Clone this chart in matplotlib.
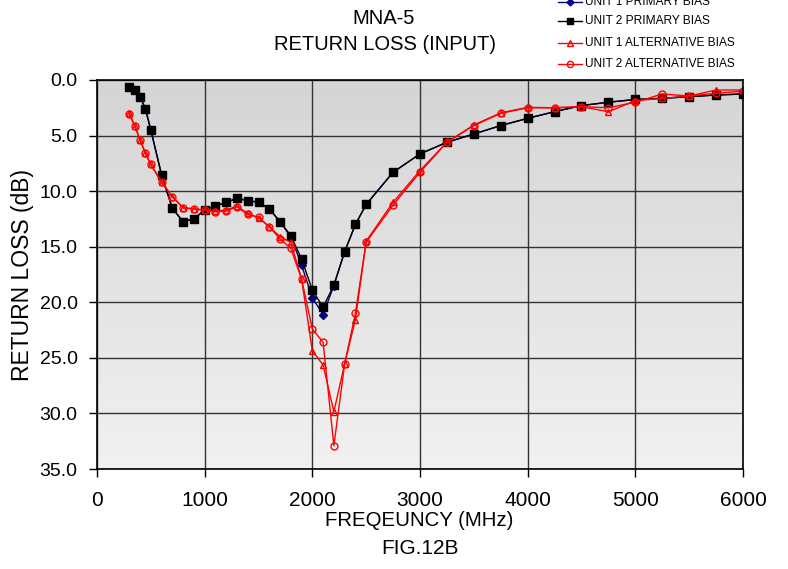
import matplotlib
matplotlib.use("Agg")
import matplotlib.pyplot as plt
import numpy as np
from matplotlib.lines import Line2D

plt.rcParams['font.family'] = ['Liberation Sans', 'DejaVu Sans']

freq = [300, 350, 400, 450, 500, 600, 700, 800, 900, 1000, 1100, 1200, 1300, 1400,
        1500, 1600, 1700, 1800, 1900, 2000, 2100, 2200, 2300, 2400, 2500, 2750,
        3000, 3250, 3500, 3750, 4000, 4250, 4500, 4750, 5000, 5250, 5500, 5750, 6000]

unit2_primary = [0.6, 0.9, 1.5, 2.6, 4.5, 8.55, 11.55, 12.75, 12.5, 11.7, 11.35, 11.0,
                 10.65, 10.85, 11.0, 11.6, 12.75, 14.0, 16.1, 18.9, 20.45, 18.45, 15.45,
                 13.0, 11.2, 8.3, 6.65, 5.6, 4.86, 4.1, 3.45, 2.85, 2.3, 2.0, 1.75, 1.65,
                 1.5, 1.35, 1.26]

unit1_primary = [0.6, 0.9, 1.5, 2.6, 4.5, 8.55, 11.55, 12.75, 12.5, 11.7, 11.35, 11.0,
                 10.65, 10.85, 11.0, 11.6, 12.75, 14.1, 16.65, 19.6, 21.1, 18.5, 15.45,
                 13.0, 11.2, 8.3, 6.65, 5.6, 4.86, 4.1, 3.45, 2.85, 2.3, 2.0, 1.75, 1.65,
                 1.5, 1.35, 1.26]

unit1_alt = [3.0, 4.1, 5.4, 6.6, 7.6, 9.2, 10.5, 11.5, 11.6, 11.7, 11.8, 11.7, 11.35,
             12.0, 12.4, 13.2, 14.1, 14.6, 17.9, 24.35, 25.65, 29.85, 25.55, 21.55, 14.5,
             11.0, 8.15, 5.6, 4.05, 2.95, 2.46, 2.5, 2.4, 2.85, 1.86, 1.65, 1.44, 0.9, 0.9]

unit2_alt = [3.1, 4.1, 5.4, 6.6, 7.6, 9.2, 10.5, 11.5, 11.6, 11.7, 11.85, 11.8, 11.4,
             12.1, 12.35, 13.2, 14.3, 15.15, 17.9, 22.4, 23.6, 32.9, 25.55, 21.0, 14.6,
             11.25, 8.3, 5.6, 4.1, 3.0, 2.5, 2.5, 2.4, 2.5, 2.0, 1.26, 1.44, 1.2, 1.0]

labels = ["UNIT 1 PRIMARY BIAS", "UNIT 2 PRIMARY BIAS",
          "UNIT 1 ALTERNATIVE BIAS", "UNIT 2 ALTERNATIVE BIAS"]

fig = plt.figure(figsize=(7.88, 5.69), dpi=100)
ax = fig.add_axes([97/788, 1-469/569, 646/788, 389/569])

# gradient background
grad = np.linspace(0, 1, 256).reshape(-1, 1)
ax.imshow(grad, extent=[0, 1, 0, 1], transform=ax.transAxes, aspect='auto',
          cmap=matplotlib.colors.LinearSegmentedColormap.from_list('g', ['#f1f1f1', '#d5d5d5']),
          origin='lower', zorder=0)

ax.set_xlim(0, 6000)
ax.set_ylim(35, 0)
ax.set_xticks(np.arange(0, 6001, 1000))
ax.set_yticks(np.arange(0, 35.1, 5))
ax.set_yticklabels([f"{v:.1f}" for v in np.arange(0, 35.1, 5)])
ax.grid(True, color='#333333', linewidth=1.0, zorder=1)
ax.set_axisbelow(False)
ax.tick_params(length=6, width=1, direction='out')
ax.tick_params(axis='x', labelsize=15, pad=10)
ax.tick_params(axis='y', labelsize=14, pad=8)
for s in ax.spines.values():
    s.set_linewidth(1.2)
    s.set_zorder(5)

l1, = ax.plot(freq, unit1_primary, color='#000080', marker='D', markersize=4, lw=1.0, zorder=3)
l2, = ax.plot(freq, unit2_primary, color='black', marker='s', markersize=6, lw=1.0, zorder=3)
l3, = ax.plot(freq, unit1_alt, color='red', marker='^', markersize=5, mfc='none', lw=1.0, zorder=4)
l4, = ax.plot(freq, unit2_alt, color='red', marker='o', markersize=5, mfc='none', lw=1.0, zorder=4)

fig.text(23/788, 1-275/569, "RETURN LOSS (dB)", fontsize=16.5, rotation=90,
         ha='center', va='center')
fig.text(419/788, 1-521/569, "FREQEUNCY (MHz)", fontsize=14.7, ha='center', va='center')
fig.text(420/788, 1-548/569, "FIG.12B", fontsize=15, ha='center', va='center')
fig.text(384/788, 1-18/569, "MNA-5", fontsize=14.5, ha='center', va='center')
fig.text(385/788, 1-44/569, "RETURN LOSS (INPUT)", fontsize=14.5, ha='center', va='center')

handles = [l1, l2, l3, l4]
msizes = [3.5, 5, 4.5, 4.5]
ys = [2, 21, 43, 64]
for h, lab, y, ms in zip(handles, labels, ys, msizes):
    yf = 1 - y/569
    fig.add_artist(Line2D([558/788, 582/788], [yf, yf], transform=fig.transFigure,
                          color=h.get_color(), lw=1.0))
    fig.add_artist(Line2D([570/788], [yf], transform=fig.transFigure, color=h.get_color(),
                          marker=h.get_marker(), markersize=ms,
                          markerfacecolor=h.get_markerfacecolor(), lw=0))
    fig.text(585/788, yf, lab, fontsize=8.6, ha='left', va='center')

fig.savefig("out.png", dpi=100)
